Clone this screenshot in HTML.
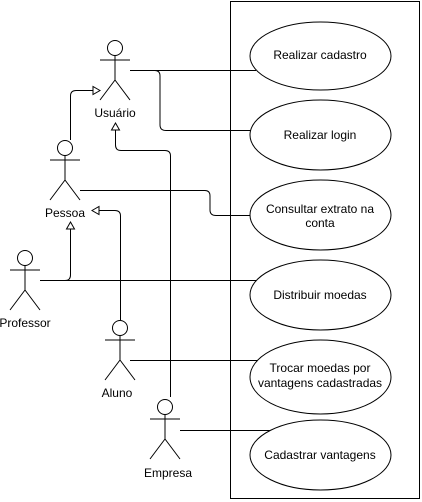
<!DOCTYPE html>
<html><head><meta charset="utf-8"><style>
html,body{margin:0;padding:0;background:#fff;width:422px;height:502px;overflow:hidden}
text{font-family:"Liberation Sans",Arial,sans-serif;font-size:12px;fill:#000}
</style></head><body>
<svg width="422" height="502" viewBox="0 0 422 502" xmlns="http://www.w3.org/2000/svg">
<rect x="230.5" y="1.5" width="189" height="497" fill="#fff" stroke="#000"/>
<g fill="none" stroke="#000" stroke-width="1">
<path d="M130 70.5 H256"/>
<path d="M155 70.5 Q160 70.5 160 76 V125 Q160 130.5 166 130.5 H252"/>
<path d="M80 190.5 H205 Q210 190.5 210 196 V210 Q210 215.5 216 215.5 H250"/>
<path d="M40 280.5 H256"/>
<path d="M130 360.5 H258"/>
<path d="M180 430.5 H270"/>
<path d="M70.5 140 V96 Q70.5 90.5 76 90.5 H95"/>
<path d="M170.5 397 V156 Q170.5 150.5 165 150.5 H121 Q115.5 150.5 115.5 145 V130"/>
<path d="M120.5 320 V216 Q120.5 210.5 115 210.5 H97"/>
<path d="M45 280.5 H65 Q70.5 280.5 70.5 275 V228"/>
</g>
<g fill="#fff" stroke="#000">
<path d="M100 90.5 L93 86.5 L93 94.5 Z"/>
<path d="M115.5 123 L111.5 130 L119.5 130 Z"/>
<path d="M92 210.5 L99 206.5 L99 214.5 Z"/>
<path d="M70.5 222 L66.5 229 L74.5 229 Z"/>
</g>
<g fill="#fff" stroke="#000">
<ellipse cx="320.5" cy="56" rx="70.5" ry="34"/>
<ellipse cx="320.5" cy="135" rx="70.5" ry="35"/>
<ellipse cx="320.5" cy="215" rx="70.5" ry="35"/>
<ellipse cx="320.5" cy="295" rx="70.5" ry="35"/>
<ellipse cx="320.5" cy="377" rx="70.5" ry="37"/>
<ellipse cx="320.5" cy="455" rx="70.5" ry="35"/>
</g>
<g text-anchor="middle">
<text x="320" y="59">Realizar cadastro</text>
<text x="320" y="139">Realizar login</text>
<text x="320" y="213">Consultar extrato na</text>
<text x="320" y="227">conta</text>
<text x="320" y="299">Distribuir moedas</text>
<text x="320" y="372">Trocar moedas por</text>
<text x="320" y="387">vantagens cadastradas</text>
<text x="320" y="459">Cadastrar vantagens</text>
</g>
<g fill="#fff" stroke="#000">
<g transform="translate(115,40)"><circle cx="0" cy="8" r="7.5"/><path d="M0 15.5V40M-15 20H15M0 40L-15 60M0 40L15 60" fill="none"/></g>
<g transform="translate(65,140)"><circle cx="0" cy="8" r="7.5"/><path d="M0 15.5V40M-15 20H15M0 40L-15 60M0 40L15 60" fill="none"/></g>
<g transform="translate(25,250)"><circle cx="0" cy="8" r="7.5"/><path d="M0 15.5V40M-15 20H15M0 40L-15 60M0 40L15 60" fill="none"/></g>
<g transform="translate(120,320)"><circle cx="0" cy="8" r="7.5"/><path d="M0 15.5V40M-15 20H15M0 40L-15 60M0 40L15 60" fill="none"/></g>
<g transform="translate(165,399)"><circle cx="0" cy="8" r="7.5"/><path d="M0 15.5V40M-15 20H15M0 40L-15 60M0 40L15 60" fill="none"/></g>
</g>
<g text-anchor="middle">
<text x="115" y="117">Usuário</text>
<text x="65" y="217">Pessoa</text>
<text x="25" y="327">Professor</text>
<text x="117" y="397">Aluno</text>
<text x="168" y="477">Empresa</text>
</g>
</svg>
</body></html>
